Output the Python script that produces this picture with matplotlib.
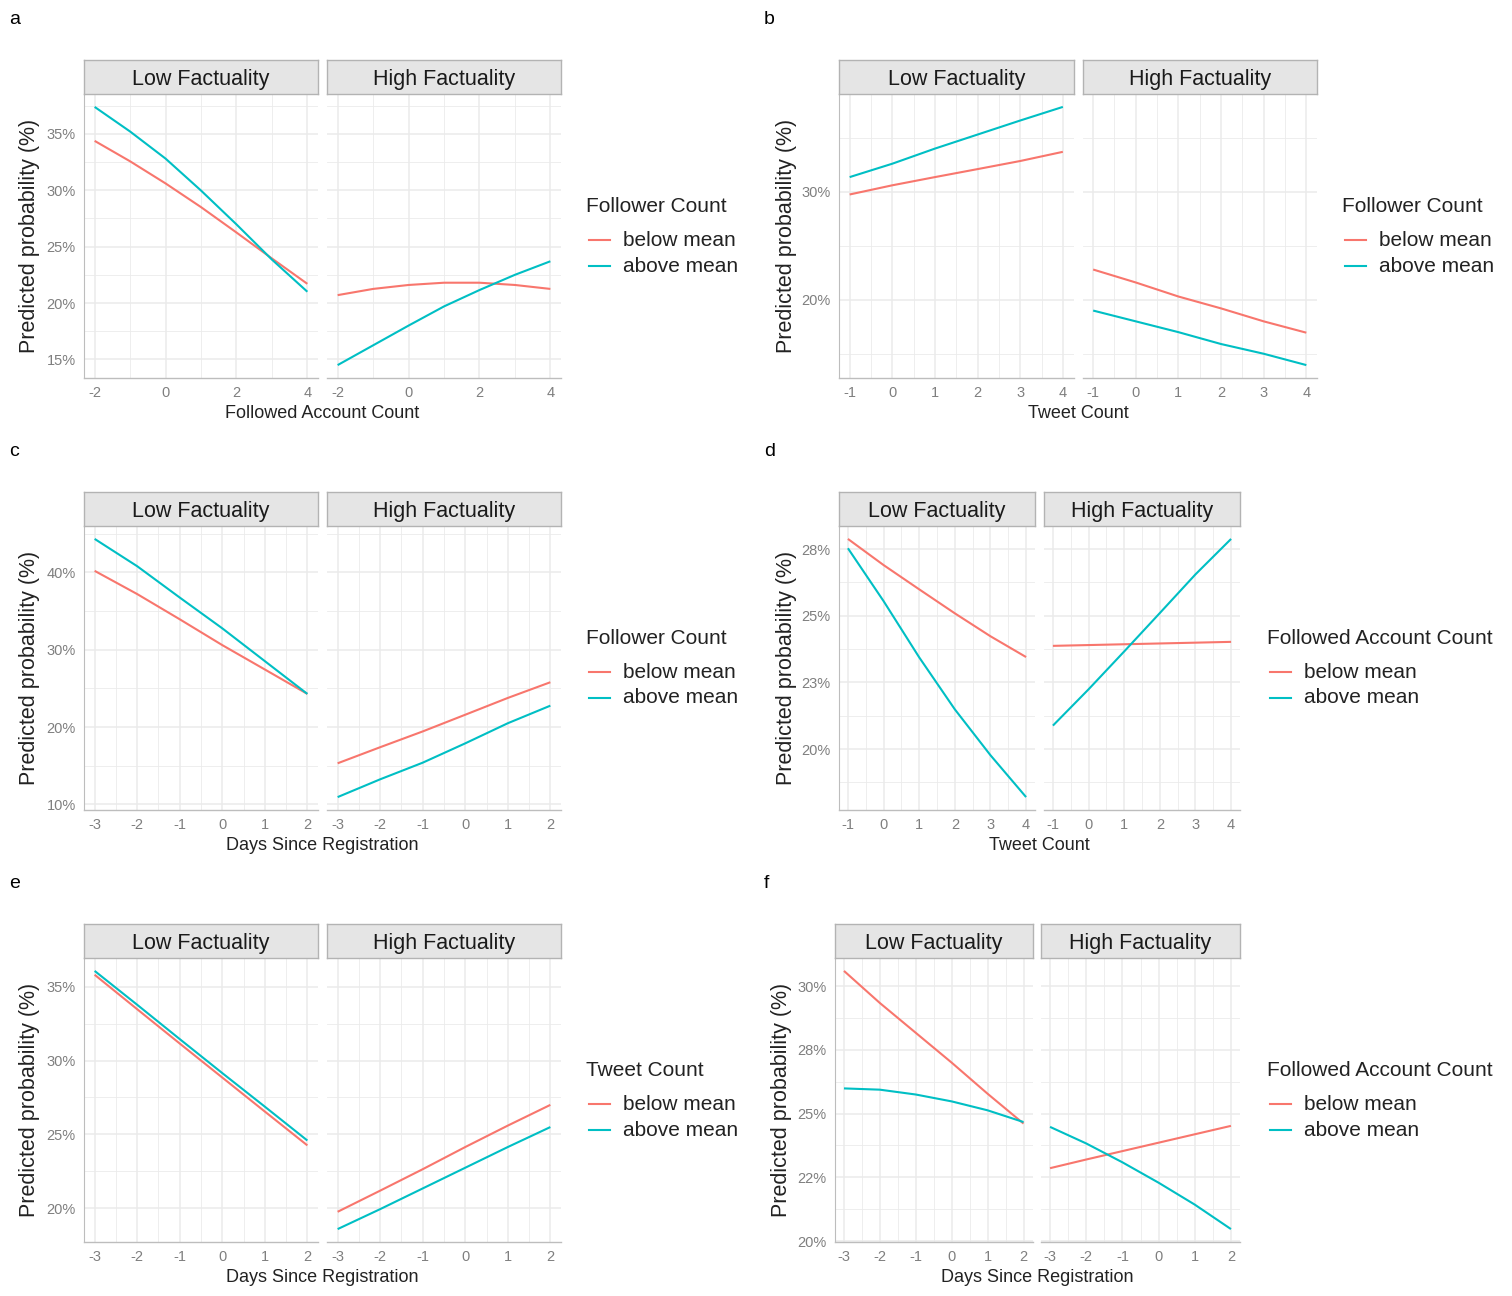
import numpy as np
import matplotlib
matplotlib.use("Agg")
import matplotlib.pyplot as plt
from matplotlib.lines import Line2D

plt.rcParams.update({"font.family": ["Liberation Sans", "DejaVu Sans"]})

W, H = 1512, 1296
RED, TEAL = "#F8766D", "#00BFC4"
GRID = "#ebebeb"
facets = ["Low Factuality", "High Factuality"]
series_labels = ["below mean", "above mean"]

# ---- data (predicted probability, %) ----
a_x = [-2, -1, 0, 1, 2, 3, 4]
a_low_below = [34.37, 32.56, 30.6, 28.5, 26.25, 23.95, 21.7]
a_low_above = [37.38, 35.2, 32.8, 29.97, 26.97, 23.85, 21.0]
a_high_below = [20.7, 21.25, 21.6, 21.8, 21.8, 21.6, 21.25]
a_high_above = [14.5, 16.25, 18.0, 19.7, 21.15, 22.5, 23.7]

b_x = [-1, 0, 1, 2, 3, 4]
b_low_below = [29.75, 30.6, 31.36, 32.1, 32.85, 33.7]
b_low_above = [31.36, 32.6, 34.0, 35.3, 36.6, 37.86]
b_high_below = [22.8, 21.6, 20.3, 19.2, 18.0, 16.95]
b_high_above = [19.0, 18.0, 17.0, 15.9, 15.0, 13.95]

c_x = [-3, -2, -1, 0, 1, 2]
c_low_below = [40.2, 37.2, 33.94, 30.6, 27.45, 24.29]
c_low_above = [44.33, 40.8, 36.75, 32.77, 28.53, 24.29]
c_high_below = [15.32, 17.4, 19.44, 21.6, 23.77, 25.8]
c_high_above = [10.95, 13.25, 15.4, 17.9, 20.5, 22.77]

d_x = [-1, 0, 1, 2, 3, 4]
d_low_below = [27.88, 26.9, 25.99, 25.09, 24.23, 23.45]
d_low_above = [27.53, 25.55, 23.44, 21.49, 19.77, 18.2]
d_high_below = [23.87, 23.9, 23.93, 23.96, 23.99, 24.02]
d_high_above = [20.88, 22.24, 23.66, 25.1, 26.55, 27.88]

e_x = [-3, -2, -1, 0, 1, 2]
e_low_below = [35.8, 33.47, 31.15, 28.85, 26.55, 24.26]
e_low_above = [36.06, 33.77, 31.45, 29.15, 26.88, 24.59]
e_high_below = [19.77, 21.2, 22.65, 24.15, 25.6, 27.0]
e_high_above = [18.6, 19.95, 21.35, 22.75, 24.15, 25.5]

f_x = [-3, -2, -1, 0, 1, 2]
f_low_below = [30.6, 29.34, 28.17, 27.0, 25.78, 24.61]
f_low_above = [25.99, 25.94, 25.75, 25.48, 25.13, 24.67]
f_high_below = [22.86, 23.2, 23.53, 23.86, 24.19, 24.52]
f_high_above = [24.48, 23.83, 23.09, 22.29, 21.43, 20.47]

# tick breaks / labels
a_yt = [15, 20, 25, 30, 35]; a_ytl = ["15%", "20%", "25%", "30%", "35%"]
b_yt = [20, 30]; b_ytl = ["20%", "30%"]
c_yt = [10, 20, 30, 40]; c_ytl = ["10%", "20%", "30%", "40%"]
d_yt = [20, 22.5, 25, 27.5]; d_ytl = ["20%", "23%", "25%", "28%"]
e_yt = [20, 25, 30, 35]; e_ytl = ["20%", "25%", "30%", "35%"]
f_yt = [20, 22.5, 25, 27.5, 30]; f_ytl = ["20%", "22%", "25%", "28%", "30%"]

panels = [
    dict(tag="a", row=0, x=a_x, low=(a_low_below, a_low_above), high=(a_high_below, a_high_above),
         yt=a_yt, ytl=a_ytl, xt=[-2, 0, 2, 4], xlab="Followed Account Count", leg="Follower Count",
         cols=(84, 318, 327, 561), ylab_x=30, leg_x=586, let_x=9),
    dict(tag="b", row=0, x=b_x, low=(b_low_below, b_low_above), high=(b_high_below, b_high_above),
         yt=b_yt, ytl=b_ytl, xt=[-1, 0, 1, 2, 3, 4], xlab="Tweet Count", leg="Follower Count",
         cols=(839, 1073.5, 1082.5, 1317), ylab_x=786, leg_x=1342, let_x=764),
    dict(tag="c", row=1, x=c_x, low=(c_low_below, c_low_above), high=(c_high_below, c_high_above),
         yt=c_yt, ytl=c_ytl, xt=[-3, -2, -1, 0, 1, 2], xlab="Days Since Registration", leg="Follower Count",
         cols=(84, 318, 327, 561), ylab_x=30, leg_x=586, let_x=9),
    dict(tag="d", row=1, x=d_x, low=(d_low_below, d_low_above), high=(d_high_below, d_high_above),
         yt=d_yt, ytl=d_ytl, xt=[-1, 0, 1, 2, 3, 4], xlab="Tweet Count", leg="Followed Account Count",
         cols=(839, 1035, 1044, 1240), ylab_x=786, leg_x=1267, let_x=764),
    dict(tag="e", row=2, x=e_x, low=(e_low_below, e_low_above), high=(e_high_below, e_high_above),
         yt=e_yt, ytl=e_ytl, xt=[-3, -2, -1, 0, 1, 2], xlab="Days Since Registration", leg="Tweet Count",
         cols=(84, 318, 327, 561), ylab_x=30, leg_x=586, let_x=9),
    dict(tag="f", row=2, x=f_x, low=(f_low_below, f_low_above), high=(f_high_below, f_high_above),
         yt=f_yt, ytl=f_ytl, xt=[-3, -2, -1, 0, 1, 2], xlab="Days Since Registration", leg="Followed Account Count",
         cols=(835, 1032.5, 1041, 1240), ylab_x=781, leg_x=1267, let_x=764),
]

fig = plt.figure(figsize=(W / 100, H / 100), dpi=100)


def box(x0, x1, ytop, ybot):
    return [x0 / W, 1 - ybot / H, (x1 - x0) / W, (ybot - ytop) / H]


for p in panels:
    off = 432 * p["row"]
    s_top, s_bot, p_bot = 60 + off, 94 + off, 378 + off
    l0, l1, r0, r1 = p["cols"]
    ax_l = fig.add_axes(box(l0, l1, s_bot, p_bot))
    ax_r = fig.add_axes(box(r0, r1, s_bot, p_bot))
    ally = np.concatenate([p["low"][0], p["low"][1], p["high"][0], p["high"][1]])
    ylo, yhi = ally.min(), ally.max()
    ypad = 0.05 * (yhi - ylo)
    xlo, xhi = min(p["x"]), max(p["x"])
    xpad = 0.05 * (xhi - xlo)
    xstep = p["xt"][1] - p["xt"][0]
    d = p["yt"][1] - p["yt"][0]
    for ax, name, (below, above) in ((ax_l, facets[0], p["low"]), (ax_r, facets[1], p["high"])):
        ax.plot(p["x"], below, color=RED, lw=1.5, solid_capstyle="butt")
        ax.plot(p["x"], above, color=TEAL, lw=1.5, solid_capstyle="butt")
        ax.set_xticks(p["xt"])
        ax.set_xticklabels([str(v) for v in p["xt"]])
        ax.set_xticks(np.arange(p["xt"][0] + xstep / 2, p["xt"][-1], xstep), minor=True)
        ax.set_yticks(p["yt"])
        ax.set_yticks(np.arange(p["yt"][0] - d / 2, p["yt"][-1] + d, d), minor=True)
        ax.set_xlim(xlo - xpad, xhi + xpad)
        ax.set_ylim(ylo - ypad, yhi + ypad)
        ax.grid(which="major", color=GRID, lw=1.1)
        ax.grid(which="minor", color=GRID, lw=0.6)
        ax.set_axisbelow(True)
        ax.tick_params(which="both", length=0, labelsize=10.5, labelcolor="#7f7f7f", pad=6)
        for sp in ("top", "right", "left"):
            ax.spines[sp].set_visible(False)
        ax.spines["bottom"].set_color("#bdbdbd")
        ax.spines["bottom"].set_linewidth(1.0)
        # strip
        pos = ax.get_position()
        st = fig.add_axes(box(pos.x0 * W, pos.x1 * W, s_top, s_bot))
        st.set_facecolor("#e5e5e5")
        st.set_xticks([]); st.set_yticks([])
        for sp in st.spines.values():
            sp.set_color("#b3b3b3"); sp.set_linewidth(1.0)
        st.text(0.5, 0.42, name, ha="center", va="center", fontsize=15.5, color="#1a1a1a",
                transform=st.transAxes)
    ax_l.spines["left"].set_visible(True)
    ax_l.spines["left"].set_color("#bdbdbd")
    ax_l.set_yticklabels(p["ytl"])
    ax_r.tick_params(axis="y", labelleft=False)

    # titles
    fig.text(p["ylab_x"] / W, 1 - ((s_bot + p_bot) / 2) / H, "Predicted probability (%)",
             rotation=90, ha="center", va="center", fontsize=15.5, color="#222222")
    fig.text(((l0 + r1) / 2) / W, 1 - (p_bot + 35) / H, p["xlab"], ha="center", va="center",
             fontsize=13, color="#222222")
    fig.text(p["let_x"] / W, 1 - (19 + off) / H, p["tag"], ha="left", va="center",
             fontsize=14, color="black")

    # legend
    lx = p["leg_x"]
    fig.text(lx / W, 1 - (207 + off) / H, p["leg"], ha="left", va="center", fontsize=15, color="#222222")
    for k, (lab, col) in enumerate(zip(series_labels, (RED, TEAL))):
        yy = 1 - (240 + 26 * k + off) / H
        fig.add_artist(Line2D([(lx + 3) / W, (lx + 24) / W], [yy, yy], color=col, lw=1.5))
        fig.text((lx + 37) / W, yy, lab, ha="left", va="center", fontsize=15, color="#222222")

fig.savefig("out.png", dpi=100, facecolor="white")
